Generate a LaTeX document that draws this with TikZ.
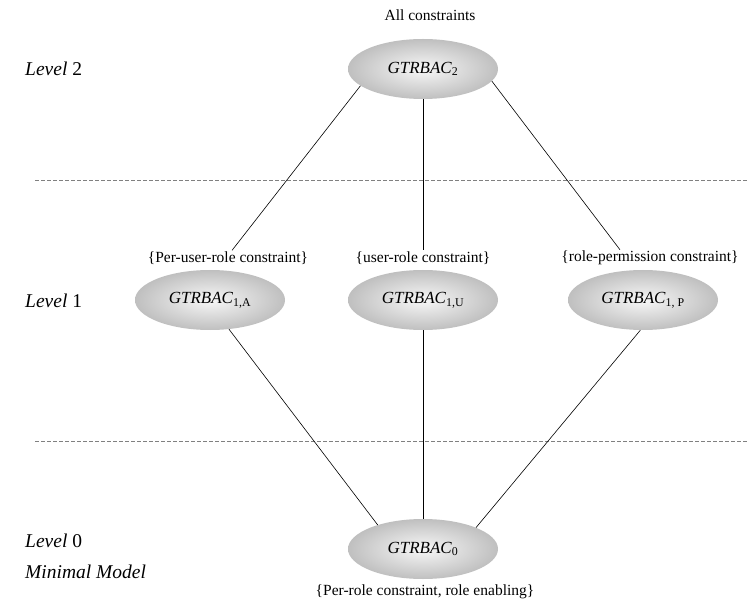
\documentclass[tikz,border=0pt]{standalone}
\usepackage{fontspec}
\setmainfont{Liberation Serif}
\usetikzlibrary{shapes.geometric,calc}
\begin{document}
\begin{tikzpicture}[x=1pt,y=-1pt,
  ell/.style={ellipse, minimum width=150pt, minimum height=60pt, inner sep=0pt,
    shade, shading=radial, inner color=gray!6, outer color=gray!50,
    font=\fontsize{17}{20}\selectfont},
  lab/.style={font=\fontsize{15.5}{18}\selectfont, inner sep=1pt},
  lvl/.style={anchor=west, inner sep=0pt, font=\fontsize{19.5}{23}\selectfont},
  sep/.style={gray, dash pattern=on 4pt off 2pt, line width=0.6pt},
  link/.style={line width=0.6pt}]
\useasboundingbox (0,0) rectangle (749,601);

% level captions
\node[lvl] (lv2) at (25,69)  {\textit{Level} 2};
\node[lvl] (lv1) at (25,301) {\textit{Level} 1};
\node[lvl] (lv0) at (25,541) {\textit{Level} 0};
\node[lvl] (mm)  at (25,572) {\textit{Minimal Model}};

% separators between levels
\coordinate (d1a) at (35,180);  \coordinate (d1b) at (749,180);
\coordinate (d2a) at (35,441);  \coordinate (d2b) at (749,441);
\draw[sep] (d1a) -- (d1b);
\draw[sep] (d2a) -- (d2b);

% level 2
\node[lab] (allc) at (430,15) {All constraints};
\node[ell] (g2) at (423,69) {\textit{GTRBAC}\textsubscript{2}};

% level 1
\node[lab] (la) at (228,258) {\{Per-user-role constraint\}};
\node[lab] (lu) at (423,258) {\{user-role constraint\}};
\node[lab] (lp) at (650,258) {\{role-permission constraint\}};
\node[ell] (g1a) at (210,300) {\textit{GTRBAC}\textsubscript{1,A}};
\node[ell] (g1u) at (423,300) {\textit{GTRBAC}\textsubscript{1,U}};
\node[ell] (g1p) at (643,300) {\textit{GTRBAC}\textsubscript{1, P}};

% level 0
\node[ell] (g0) at (423,549) {\textit{GTRBAC}\textsubscript{0}};
\node[lab] (l0) at (425,592) {\{Per-role constraint, role enabling\}};

% ordering links
\draw[link] (g2.195) -- ($(la.north)+(4,0)$);
\draw[link] (g2.south) -- (lu.north);
\draw[link] (g2.350) -- ($(lp.north)+(-30,0)$);
\draw[link] (g1a.303) -- (g0.152);
\draw[link] (g1u.south) -- (g0.north);
\draw[link] (g1p.265) -- (g0.22);
\end{tikzpicture}
\end{document}
